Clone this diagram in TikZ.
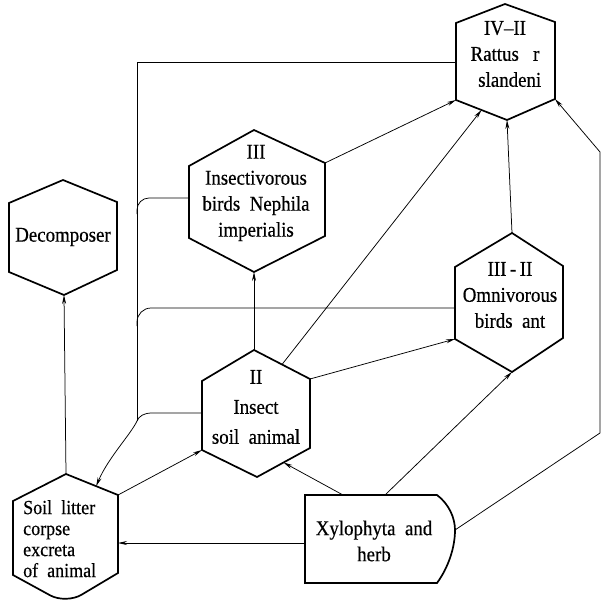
\documentclass[tikz,border=0pt]{standalone}
\usepackage{fontspec}
\setmainfont{Liberation Serif}[FakeStretch=0.9,FakeBold=0.4]
\usetikzlibrary{arrows.meta,calc}
\begin{document}
\begin{tikzpicture}[x=1pt,y=-1pt,
  hex/.style={line width=1.7pt, line join=miter},
  conn/.style={line width=0.75pt},
  arr/.style={conn,-{Stealth[length=9pt,width=4pt]}},
  lbl/.style={font=\fontsize{21}{26}\selectfont, align=center, inner sep=0pt}]
\useasboundingbox (0,0) rectangle (604,607);
% ---- IV-II
\coordinate (A-t) at (505,4);   \coordinate (A-ul) at (456,23); \coordinate (A-ur) at (555,22);
\coordinate (A-ll) at (456,100);\coordinate (A-lr) at (555,99); \coordinate (A-b) at (507,120);
\coordinate (A-w) at (456,62);
% ---- III
\coordinate (B-t) at (254,130); \coordinate (B-ul) at (189,166); \coordinate (B-ur) at (325,163);
\coordinate (B-ll) at (189,238);\coordinate (B-lr) at (325,236); \coordinate (B-b) at (254,272);
\coordinate (B-w) at (189,198);
% ---- Decomposer
\coordinate (C-t) at (63,180);  \coordinate (C-ul) at (9,203);  \coordinate (C-ur) at (117,202);
\coordinate (C-ll) at (9,272);  \coordinate (C-lr) at (117,270);\coordinate (C-b) at (64,295);
% ---- II
\coordinate (D-t) at (254,350); \coordinate (D-ul) at (202,381); \coordinate (D-ur) at (310,379);
\coordinate (D-ll) at (202,450);\coordinate (D-lr) at (310,448); \coordinate (D-b) at (257,477);
\coordinate (D-w) at (202,413);
% ---- III-II
\coordinate (E-t) at (512,233); \coordinate (E-ul) at (455,267); \coordinate (E-ur) at (563,266);
\coordinate (E-ll) at (455,339);\coordinate (E-lr) at (563,338); \coordinate (E-b) at (512,372);
\coordinate (E-w) at (455,308);
% ---- Soil litter
\coordinate (F-t) at (66,474);  \coordinate (F-ul) at (13,501); \coordinate (F-ur) at (118,495);
\coordinate (F-ll) at (13,575); \coordinate (F-lr) at (118,573);\coordinate (F-b) at (66,604);
\coordinate (F-e) at (118,543);
% ---- Xylophyta
\coordinate (G-tl) at (305,495); \coordinate (G-tr) at (437,495); \coordinate (G-e) at (455,530);
\coordinate (G-br) at (437,583); \coordinate (G-bl) at (305,583); \coordinate (G-w) at (305,543);
\coordinate (G-n1) at (343,495); \coordinate (G-n2) at (385,495);
% ---- bus and corner points
\coordinate (busTop) at (137,62); \coordinate (busJ) at (137,421);
\coordinate (busB) at (137,198); \coordinate (busE) at (137,308); \coordinate (busD) at (152,413);
\coordinate (R1) at (600,433); \coordinate (R2) at (600,152);

% shapes
\draw[hex] (A-t) -- (A-ur) -- (A-lr) -- (A-b) -- (A-ll) -- (A-ul) -- cycle;
\draw[hex] (B-t) -- (B-ur) -- (B-lr) -- (B-b) -- (B-ll) -- (B-ul) -- cycle;
\draw[hex] (C-t) -- (C-ur) -- (C-lr) -- (C-b) -- (C-ll) -- (C-ul) -- cycle;
\draw[hex] (D-t) -- (D-ur) -- (D-lr) -- (D-b) -- (D-ll) -- (D-ul) -- cycle;
\draw[hex] (E-t) -- (E-ur) -- (E-lr) -- (E-b) -- (E-ll) -- (E-ul) -- cycle;
\draw[hex] (F-lr) [rounded corners=18] -- (F-b) [sharp corners] -- (F-ll) -- (F-ul) -- (F-t) -- (F-ur) -- cycle;
\draw[hex] (G-bl) -- (G-tl) -- (G-tr) .. controls (449,504) and (455,518) .. (G-e)
           .. controls (455,548) and (448,568) .. (G-br) -- cycle;

% labels
\node[lbl] (A) at (505,54) {IV–II\\Rattus\ \ \ r\\\ \ slandeni};
\node[lbl] (B) at (256,193) {III\\Insectivorous\\birds\ \ Nephila\\imperialis};
\node[lbl] (C) at (63,237) {Decomposer};
\node[lbl,font=\fontsize{21}{30}\selectfont] (D) at (256,407) {II\\Insect\\soil\ \ animal};
\node[lbl] (E) at (510,295) {III\,-\,II\\Omnivorous\\birds\ \ ant};
\node[lbl,align=left,anchor=north west,font=\fontsize{20}{21}\selectfont] (F) at (23,500)
  {Soil\ \ litter\\corpse\\excreta\\of\ \ animal};
\node[lbl] (G) at (374,541) {Xylophyta\ \ and\\herb};

% connectors
\draw[conn] (A-w) -- (busTop) -- (busJ);
\draw[arr] (busJ) .. controls (131,434) and (108,458) .. ($(F-t)!0.58!(F-ur)$);
\draw[conn,rounded corners=12] (B-w) -- (busB) -- ++(0,16);
\draw[conn,rounded corners=14] (E-w) -- (busE) -- ++(0,18);
\draw[conn] (D-w) -- (busD) .. controls (144,413) and (139,416) .. (busJ);
\draw[arr] (D-t) -- (B-b);
\draw[arr] (B-ur) -- (A-ll);
\draw[arr] ($(D-t)!0.5!(D-ur)$) -- ($(A-ll)!0.5!(A-b)$);
\draw[arr] (E-t) -- (A-b);
\draw[arr] (D-ur) -- (E-ll);
\draw[arr] (F-ur) -- (D-ll);
\draw[arr] (F-t) -- (C-b);
\draw[arr] (G-w) -- (F-e);
\draw[arr] (G-n1) -- ($(D-lr)!0.5!(D-b)$);
\draw[arr] (G-n2) -- (E-b);
\draw[arr] (G-e) -- (R1) -- (R2) -- (A-lr);
\end{tikzpicture}
\end{document}
